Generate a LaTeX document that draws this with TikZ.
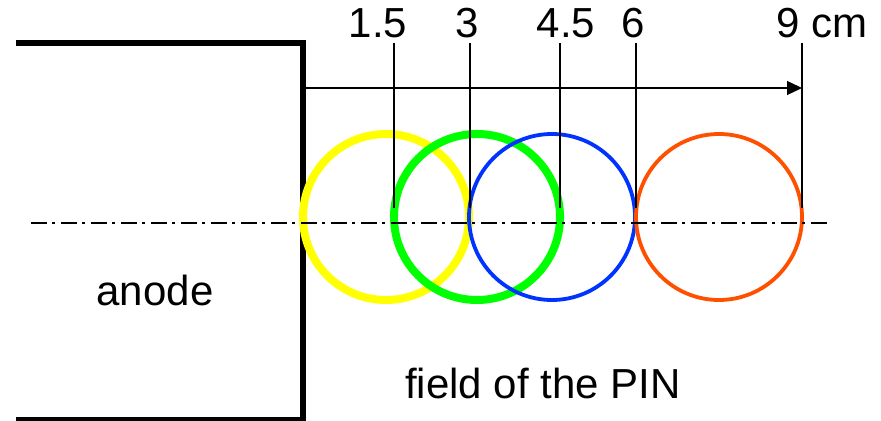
\documentclass[tikz,border=0pt]{standalone}
\usepackage{fontspec}
\setmainfont{Liberation Sans}
\usetikzlibrary{arrows.meta}

\definecolor{ringyellow}{RGB}{255,255,0}
\definecolor{ringgreen}{RGB}{0,255,0}
\definecolor{ringblue}{RGB}{0,51,255}
\definecolor{ringorange}{RGB}{255,80,0}

\begin{document}
\begin{tikzpicture}[x=0.5pt,y=-0.5pt]
\tikzset{
  txt/.style={font=\fontsize{21}{25}\selectfont,inner sep=0pt,anchor=base},
  anodeline/.style={line width=2.7pt,line join=miter},
  markline/.style={line width=0.8pt},
  scaleline/.style={line width=0.65pt,-{Triangle[length=7.5pt,width=7pt]}},
  axisline/.style={line width=1pt,dash pattern=on 8pt off 2.5pt on 1.5pt off 3pt},
  ring/.style={line width=#1}
}
\useasboundingbox (0,0) rectangle (881,421);
% anode block
\coordinate (a_tl) at (16,43);
\coordinate (a_tr) at (303,43);
\coordinate (a_br) at (303,420);
\coordinate (a_bl) at (16,420);
\draw[anodeline] (a_tl) -- (a_tr) -- (a_br) -- (a_bl);
\node[txt] (n_anode) at (155,306) {anode};
% rings
\draw[ringyellow,ring=4pt] (386,217) circle[radius=83];
\draw[ringgreen,ring=4pt] (477,217) circle[radius=83];
\draw[ringblue,ring=1.9pt] (552,217) circle[radius=83];
\draw[ringorange,ring=1.9pt] (719,217) circle[radius=83];
% centre line
\coordinate (ax_l) at (31,223);
\coordinate (ax_r) at (827,223);
\draw[axisline] (ax_l) -- (ax_r);
% distance scale
\coordinate (sc_l) at (305,88);
\coordinate (sc_r) at (802,88);
\draw[scaleline] (sc_l) -- (sc_r);
\node[txt] (n_15) at (378,38) {1.5};
\node[txt] (n_3) at (467,38) {3};
\node[txt] (n_45) at (566,38) {4.5};
\node[txt] (n_6) at (633,38) {6};
\node[txt,anchor=base west] (n_9) at (776,38) {9 cm};
\coordinate (m15_t) at (394,43);
\coordinate (m15_b) at (394,208);
\coordinate (m3_t) at (470,43);
\coordinate (m3_b) at (470,208);
\coordinate (m45_t) at (560,43);
\coordinate (m45_b) at (560,208);
\coordinate (m6_t) at (636,43);
\coordinate (m6_b) at (636,208);
\coordinate (m9_t) at (802,43);
\coordinate (m9_b) at (802,208);
\draw[markline] (m15_t) -- (m15_b);
\draw[markline] (m3_t) -- (m3_b);
\draw[markline] (m45_t) -- (m45_b);
\draw[markline] (m6_t) -- (m6_b);
\draw[markline] (m9_t) -- (m9_b);
\node[txt] (n_field) at (543,398) {field of the PIN};
\end{tikzpicture}
\end{document}
